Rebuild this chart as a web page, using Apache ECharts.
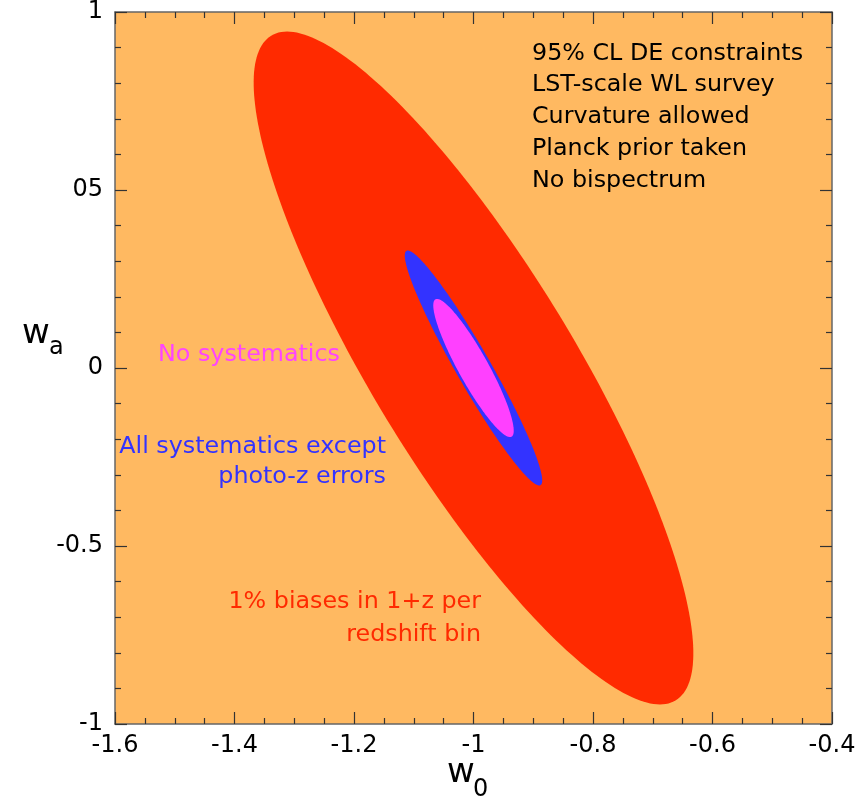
<!DOCTYPE html>
<html>
<head>
<meta charset="utf-8">
<script src="https://cdn.jsdelivr.net/npm/echarts@6/dist/echarts.min.js"></script>
<style>
html, body { margin: 0; background: #fff; }
#chart { width: 867px; height: 811px; }
</style>
</head>
<body>
<div id="chart"></div>
<script>
var xTicks = [-1.6, -1.4, -1.2, -1, -0.8, -0.6, -0.4];
var xTickLabels = ['-1.6', '-1.4', '-1.2', '-1', '-0.8', '-0.6', '-0.4'];
var yTicks = [-1, -0.5, 0, 0.5, 1];
var yTickLabels = ['-1', '-0.5', '0', '05', '1'];

// 95% contours: centre (w0, wa), the tip with the
// largest wa, and the half width along w0 through the centre
var contourNames = ['1% biases in 1+z per redshift bin', 'All systematics except photo-z errors', 'No systematics'];
var contourCentre = [[-1.0, 0.0], [-1.0, 0.0], [-1.0, 0.0]];
var contourTop = [[-1.312, 0.945], [-1.11, 0.33], [-1.061, 0.194]];
var contourHalfWidth = [0.195, 0.0335, 0.0285];
var contourColors = ['#ff2a00', '#3333ff', '#ff40ff'];

var FONT = '"DejaVu Sans", "Liberation Sans", sans-serif';

/**
 * Label for a tick value.
 * @param {number[]} ticks
 * @param {string[]} labels
 * @returns {function}
 */
function tickFormatter(ticks, labels) {
    return function (v) {
        for (var i = 0; i < ticks.length; i++) {
            if (Math.abs(ticks[i] - v) < 1e-6) return labels[i];
        }
        return '';
    };
}

/**
 * Draw one contour as a filled ellipse through the axes.
 * @returns {object}
 */
function renderContour(params, api) {
    var cx = api.value(0), cy = api.value(1);
    var ux = api.value(2) - cx, uy = api.value(3) - cy;
    var h = api.value(4);
    var pts = [];
    for (var k = 0; k < 240; k++) {
        var a = k / 240 * Math.PI * 2;
        pts.push(api.coord([cx + ux * Math.cos(a) + h * Math.sin(a), cy + uy * Math.cos(a)]));
    }
    return {
        type: 'polygon',
        shape: { points: pts },
        style: { fill: contourColors[params.dataIndex] }
    };
}

var contourData = contourNames.map(function (name, i) {
    return {
        name: name,
        value: [contourCentre[i][0], contourCentre[i][1], contourTop[i][0], contourTop[i][1], contourHalfWidth[i]]
    };
});

function makeXAxis(pos, showLabel) {
    return {
        type: 'value',
        position: pos,
        min: xTicks[0],
        max: xTicks[xTicks.length - 1],
        interval: 0.2,
        axisLine: { show: true, onZero: false, lineStyle: { color: '#666', width: 1.5 } },
        axisTick: { show: true, inside: true, length: 12, lineStyle: { color: '#333', width: 1.2 } },
        minorTick: { show: true, splitNumber: 4, length: 6, lineStyle: { color: '#333', width: 1.2 } },
        splitLine: { show: false },
        axisLabel: {
            show: showLabel,
            color: '#000',
            fontFamily: FONT,
            fontSize: 24,
            margin: 10,
            formatter: tickFormatter(xTicks, xTickLabels)
        }
    };
}

function makeYAxis(pos, showLabel) {
    return {
        type: 'value',
        position: pos,
        min: yTicks[0],
        max: yTicks[yTicks.length - 1],
        interval: 0.5,
        axisLine: { show: true, onZero: false, lineStyle: { color: '#666', width: 1.5 } },
        axisTick: { show: true, inside: true, length: 12, lineStyle: { color: '#333', width: 1.2 } },
        minorTick: { show: true, splitNumber: 5, length: 6, lineStyle: { color: '#333', width: 1.2 } },
        splitLine: { show: false },
        axisLabel: {
            show: showLabel,
            color: '#000',
            fontFamily: FONT,
            fontSize: 24,
            margin: 12,
            formatter: tickFormatter(yTicks, yTickLabels)
        }
    };
}

function textEl(text, x, y, color, size, align, lineHeight) {
    return {
        type: 'text',
        x: x,
        y: y,
        z: 100,
        style: {
            text: text,
            fill: color,
            font: size + 'px ' + FONT,
            textAlign: align,
            align: align,
            textVerticalAlign: 'middle',
            verticalAlign: 'middle',
            lineHeight: lineHeight || size
        }
    };
}

var chart = echarts.init(document.getElementById('chart'));
chart.setOption({
    animation: false,
    backgroundColor: '#fff',
    grid: {
        left: 115, right: 35, top: 12, bottom: 87,
        show: true, backgroundColor: '#ffb961', borderWidth: 0
    },
    xAxis: [makeXAxis('bottom', true), makeXAxis('top', false)],
    yAxis: [makeYAxis('left', true), makeYAxis('right', false)],
    series: [{
        type: 'custom',
        xAxisIndex: 0,
        yAxisIndex: 0,
        renderItem: renderContour,
        encode: { x: 0, y: 1 },
        data: contourData,
        silent: true
    }],
    graphic: [
        textEl('w', 447, 773, '#000', 34, 'left'),
        textEl('0', 473, 790, '#000', 24, 'left'),
        textEl('w', 22, 334, '#000', 34, 'left'),
        textEl('a', 49, 348, '#000', 24, 'left'),
        textEl('95% CL DE constraints\nLST-scale WL survey\nCurvature allowed\nPlanck prior taken\nNo bispectrum',
            532, 117, '#000', 23.8, 'left', 31.8),
        textEl('No systematics', 158, 355, '#ff44ff', 23.8, 'left'),
        textEl('All systematics except\nphoto-z errors', 386, 462, '#3333ff', 23.8, 'right', 30),
        textEl('1% biases in 1+z per\nredshift bin', 481, 618, '#ff2a00', 23.8, 'right', 33)
    ]
});
</script>
</body>
</html>
